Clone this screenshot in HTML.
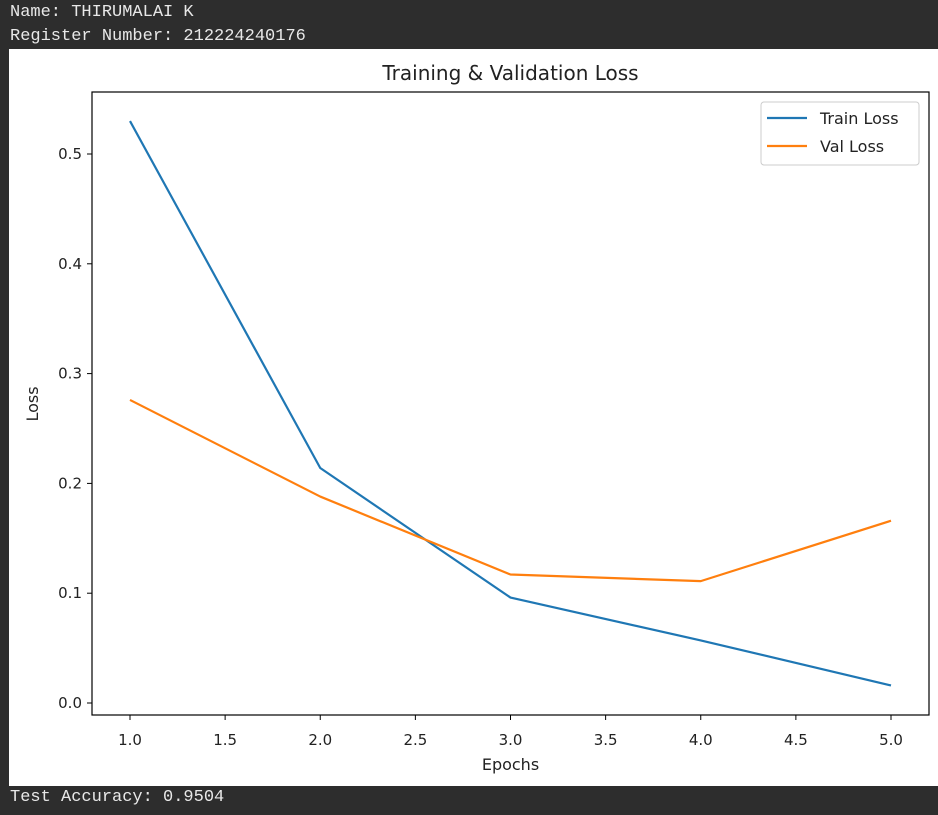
<!DOCTYPE html>
<html><head><meta charset="utf-8"><style>
html,body{margin:0;padding:0;width:938px;height:815px;background:#2d2d2d;overflow:hidden}
.t{position:absolute;left:10px;font:17px "Liberation Mono","DejaVu Sans Mono",monospace;color:#e8e8e8}
svg{position:absolute;left:0;top:0}
</style></head><body>
<div class="t" style="top:3px">Name: THIRUMALAI K</div>
<div class="t" style="top:27px">Register Number: 212224240176</div>
<div class="t" style="top:788px">Test Accuracy: 0.9504</div>
<svg id="c" width="938" height="815" font-family="DejaVu Sans, Liberation Sans, sans-serif">
<rect x="9" y="49" width="929" height="737" fill="#fff"/>
</svg>
<script>
const epochs=[1,2,3,4,5];
const trainLoss=[0.530,0.214,0.096,0.057,0.016];
const valLoss=[0.276,0.188,0.117,0.111,0.166];
const xTicks=[1.0,1.5,2.0,2.5,3.0,3.5,4.0,4.5,5.0];
const yTicks=[0.0,0.1,0.2,0.3,0.4,0.5];
const svg=document.getElementById('c');const NS='http://www.w3.org/2000/svg';
const L=92,R=929,T=92,B=715;
const xs=v=>130+(v-1)*(891-130)/4;
const ys=v=>703-v*(703-154)/0.5;
function mk(tag,attrs,parent){const e=document.createElementNS(NS,tag);for(const k in attrs)e.setAttribute(k,attrs[k]);(parent||svg).appendChild(e);return e;}
xTicks.forEach(v=>{const g=mk('g',{});


mk('line',{x1:xs(v),x2:xs(v),y1:B,y2:B+5,stroke:'#000','stroke-width':1},g);
const t=mk('text',{x:xs(v),y:B+30,'text-anchor':'middle','font-size':15,fill:'#222'},g);t.textContent=v.toFixed(1);});
yTicks.forEach(v=>{const g=mk('g',{});


mk('line',{x1:L-5,x2:L,y1:ys(v),y2:ys(v),stroke:'#000','stroke-width':1},g);
const t=mk('text',{x:L-10,y:ys(v)+5,'text-anchor':'end','font-size':15,fill:'#222'},g);t.textContent=v.toFixed(1);});
function line(data,color,name){const p=mk('polyline',{points:data.map((v,i)=>xs(epochs[i])+','+ys(v)).join(' '),fill:'none',stroke:color,'stroke-width':2.2,'stroke-linejoin':'round'});

}
line(trainLoss,'#1f77b4','train-loss-line');
line(valLoss,'#ff7f0e','val-loss-line');
const ax=mk('rect',{x:L,y:T,width:R-L,height:B-T,fill:'none',stroke:'#000','stroke-width':1.2});


const ti=mk('text',{x:(L+R)/2,y:80,'text-anchor':'middle','font-size':20,fill:'#222'});ti.textContent='Training & Validation Loss';


const xl=mk('text',{x:(L+R)/2,y:770,'text-anchor':'middle','font-size':16,fill:'#222'});xl.textContent='Epochs';


const yl=mk('text',{x:0,y:0,'text-anchor':'middle','font-size':16,fill:'#222',transform:'translate(38,404) rotate(-90)'});yl.textContent='Loss';


const lg=mk('g',{});


mk('rect',{x:761,y:102,width:158,height:63,rx:3,fill:'#fff',stroke:'#ccc','stroke-width':1},lg);
[['Train Loss','#1f77b4',118],['Val Loss','#ff7f0e',146]].forEach(([n,c,y])=>{const e=mk('g',{},lg);


mk('line',{x1:767,x2:807,y1:y,y2:y,stroke:c,'stroke-width':2.2},e);
const t=mk('text',{x:820,y:y+6,'font-size':16,fill:'#222'},e);t.textContent=n;});
</script>
</body></html>
